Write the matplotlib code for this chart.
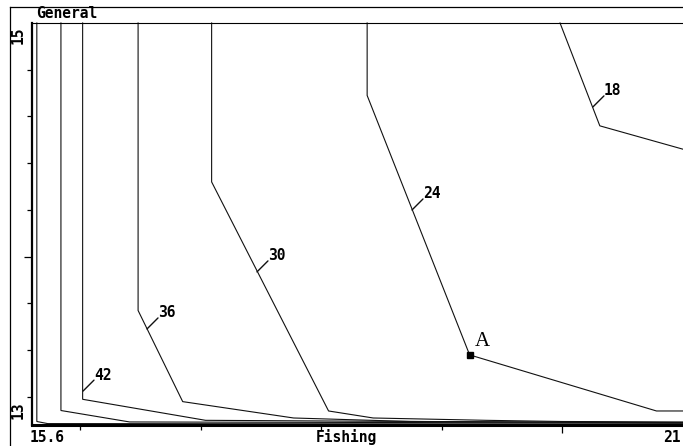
import matplotlib
matplotlib.use("Agg")
import matplotlib.pyplot as plt
from matplotlib.lines import Line2D

# ---------------- data ----------------
levels = [18, 24, 30, 36, 42, 48, 54]

c18_x = [19.98, 20.31, 21.00]
c18_y = [15.00, 14.56, 14.46]

c24_x = [18.38, 18.38, 19.23, 20.78, 21.00]
c24_y = [15.00, 14.69, 13.58, 13.34, 13.34]

c30_x = [17.09, 17.09, 18.06, 18.43, 19.37, 20.00, 21.00]
c30_y = [15.00, 14.32, 13.34, 13.31, 13.300, 13.295, 13.293]

c36_x = [16.48, 16.48, 16.85, 17.77, 18.74, 21.00]
c36_y = [15.00, 13.77, 13.38, 13.31, 13.295, 13.290]

c42_x = [16.02, 16.02, 17.04, 21.00]
c42_y = [15.00, 13.39, 13.30, 13.289]

c48_x = [15.84, 15.84, 16.41, 21.00]
c48_y = [15.00, 13.342, 13.293, 13.288]

c54_x = [15.64, 15.64, 15.73, 21.00]
c54_y = [15.00, 13.295, 13.286, 13.284]

contours_x = [c18_x, c24_x, c30_x, c36_x, c42_x, c48_x, c54_x]
contours_y = [c18_y, c24_y, c30_y, c36_y, c42_y, c48_y, c54_y]

# label anchor points on contours
label_levels = [18, 24, 30, 36, 42]
label_x = [20.253, 18.752, 17.466, 16.554, 16.023]
label_y = [14.641, 14.200, 13.935, 13.691, 13.425]

point_A = (19.23, 13.58)

x_min, x_max = 15.6, 21.0
y_min, y_max = 13.28, 15.0
x_minor_ticks = [16, 17, 18, 19]
x_major_ticks = [20]
y_minor_ticks = [14.8, 14.6, 14.4, 14.2, 13.8, 13.6, 13.4]
y_major_ticks = [14.0]

x_tick_labels = ["15.6", "21"]
y_tick_labels = ["15", "13"]
title = "General"
x_label = "Fishing"

# ---------------- figure ----------------
W, H = 683, 446
fig = plt.figure(figsize=(W / 100, H / 100), dpi=100)
ax = fig.add_axes([32 / W, (H - 425) / H, 651 / W, 402 / H])
ax.set_xlim(x_min, x_max)
ax.set_ylim(y_min, y_max)

mono = ["DejaVu Sans Mono"]
lc = "#111111"

for xs, ys in zip(contours_x, contours_y):
    ax.plot(xs, ys, color=lc, lw=0.8, solid_joinstyle="miter", clip_on=False)

for lev, lx, ly in zip(label_levels, label_x, label_y):
    ax.annotate("", xy=(lx, ly), xytext=(11, 11), textcoords="offset pixels",
                arrowprops=dict(arrowstyle="-", color=lc, lw=1.0,
                                shrinkA=0, shrinkB=0))
    ax.annotate(str(lev), xy=(lx, ly), xytext=(11, 16), textcoords="offset pixels",
                ha="left", va="center", fontsize=10.5, fontweight="bold",
                family=mono, color="black")

ax.plot([point_A[0]], [point_A[1]], marker="s", ms=4, color="black", mec="black")
ax.annotate("A", xy=point_A, xytext=(5, 4), textcoords="offset pixels",
            ha="left", va="bottom", fontsize=15, family=["Liberation Serif"],
            color="black")

# spines and ticks
ax.spines["right"].set_visible(False)
ax.spines["top"].set_linewidth(0.8)
ax.spines["left"].set_linewidth(1.6)
ax.spines["bottom"].set_linewidth(2.2)
for s in ax.spines.values():
    s.set_color("black")

ax.set_xticks(x_major_ticks)
ax.set_xticks(x_minor_ticks, minor=True)
ax.set_yticks(y_major_ticks)
ax.set_yticks(y_minor_ticks, minor=True)
ax.tick_params(axis="both", which="major", length=5.8, width=0.9, color="black",
               labelbottom=False, labelleft=False, direction="out")
ax.tick_params(axis="both", which="minor", length=3.6, width=0.9, color="black",
               direction="out")

# manual axis labels
def fx(px):
    return px / W

def fy(py):
    return 1 - py / H

tkw = dict(fontsize=10.5, fontweight="bold", family=mono, color="black")
fig.text(fx(30), fy(437), x_tick_labels[0], ha="left", va="center", **tkw)
fig.text(fx(681), fy(437), x_tick_labels[1], ha="right", va="center", **tkw)
fig.text(fx(346), fy(437), x_label, ha="center", va="center", **tkw)
fig.text(fx(18), fy(35), y_tick_labels[0], ha="center", va="center", rotation=90, **tkw)
fig.text(fx(18), fy(410), y_tick_labels[1], ha="center", va="center", rotation=90, **tkw)
fig.text(fx(36), fy(14), title, ha="left", va="center", **tkw)

# outer frame (left and top)
fig.add_artist(Line2D([fx(10), fx(10)], [fy(7), 0], transform=fig.transFigure,
                      color="black", lw=0.9))
fig.add_artist(Line2D([fx(10), 1], [fy(7), fy(7)], transform=fig.transFigure,
                      color="black", lw=0.9))

fig.savefig("out.png", dpi=100)
